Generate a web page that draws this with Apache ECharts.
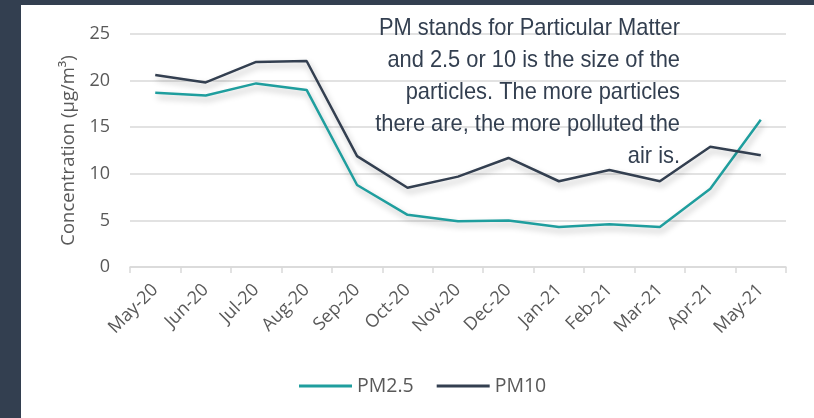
<!DOCTYPE html>
<html>
<head>
<meta charset="utf-8">
<script src="https://cdn.jsdelivr.net/npm/echarts@6/dist/echarts.min.js"></script>
<style>
  html, body { margin: 0; padding: 0; background: #333f50; width: 814px; height: 418px; overflow: hidden; }
  #chart { position: absolute; left: 21px; top: 5px; width: 793px; height: 413px; background: #fff; }
</style>
</head>
<body>
<div id="chart"></div>
<script>
const months = ['May-20', 'Jun-20', 'Jul-20', 'Aug-20', 'Sep-20', 'Oct-20', 'Nov-20', 'Dec-20', 'Jan-21', 'Feb-21', 'Mar-21', 'Apr-21', 'May-21'];
const pm25 = [18.7, 18.4, 19.7, 19.0, 8.8, 5.6, 4.9, 5.0, 4.3, 4.6, 4.3, 8.4, 15.8];
const pm10 = [20.6, 19.8, 22.0, 22.1, 11.9, 8.5, 9.7, 11.7, 9.2, 10.4, 9.2, 12.9, 12.0];
const note = 'PM stands for Particular Matter\nand 2.5 or 10 is the size of the\nparticles. The more particles\nthere are, the more polluted the\nair is.';

const gray = '#595959';
const chart = echarts.init(document.getElementById('chart'));

const lineShadow = { shadowColor: 'rgba(0,0,0,0.28)', shadowBlur: 6, shadowOffsetX: 2, shadowOffsetY: 4 };

chart.setOption({
  animation: false,
  textStyle: { fontFamily: 'Open Sans' },
  grid: { left: 109, right: 28, top: 29, bottom: 151 },
  legend: {
    left: 273,
    top: 366,
    itemWidth: 53,
    itemHeight: 3,
    itemGap: 23,
    icon: 'rect',
    textStyle: { color: gray, fontSize: 19.5, fontFamily: 'Open Sans' },
    data: ['PM2.5', 'PM10']
  },
  xAxis: {
    type: 'category',
    data: months,
    boundaryGap: true,
    axisLine: { lineStyle: { color: '#d9d9d9', width: 1.5 } },
    axisTick: { show: true, length: 6, lineStyle: { color: '#d9d9d9', width: 1.5 } },
    axisLabel: { rotate: 45, color: gray, fontSize: 18, margin: 20, interval: 0 }
  },
  yAxis: {
    type: 'value',
    min: 0,
    max: 25,
    interval: 5,
    name: 'Concentration (μg/m³)',
    nameLocation: 'middle',
    nameGap: 48,
    nameTextStyle: { color: gray, fontSize: 18.5 },
    axisLine: { show: false },
    axisTick: { show: false },
    axisLabel: { color: gray, fontSize: 18, margin: 20 },
    splitLine: { lineStyle: { color: '#d9d9d9', width: 1.5 } }
  },
  graphic: [{
    type: 'text',
    x: 659,
    y: 7,
    scaleX: 0.91,
    z: 100,
    style: {
      text: note,
      x: 0,
      y: 0,
      fill: '#333f50',
      font: '24px "Liberation Sans", Arial, sans-serif',
      align: 'right',
      textAlign: 'right',
      verticalAlign: 'top',
      lineHeight: 32
    }
  }],
  series: [
    {
      name: 'PM2.5',
      type: 'line',
      data: pm25,
      symbol: 'none',
      color: '#1f9e9e',
      lineStyle: Object.assign({ width: 2.5, color: '#1f9e9e' }, lineShadow)
    },
    {
      name: 'PM10',
      type: 'line',
      data: pm10,
      symbol: 'none',
      color: '#333f50',
      lineStyle: Object.assign({ width: 2.5, color: '#333f50' }, lineShadow)
    }
  ]
});
</script>
</body>
</html>
